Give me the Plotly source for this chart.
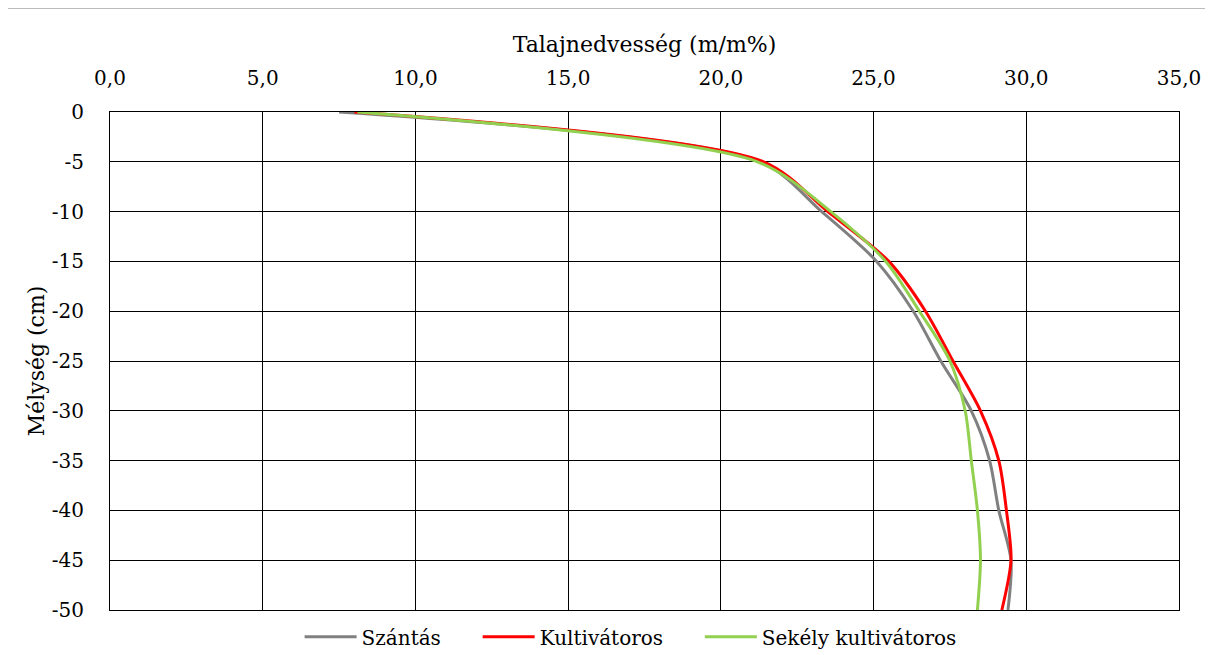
import plotly.graph_objects as go

# Talajnedvesség mélység szerint
depth = [0, -5, -10, -15, -20, -25, -30, -35, -40, -45, -50]
szantas = [7.5, 21.3, 23.3, 25.1, 26.3, 27.2, 28.2, 28.8, 29.1, 29.5, 29.4]
kultivatoros = [8.0, 21.4, 23.5, 25.5, 26.7, 27.6, 28.5, 29.1, 29.35, 29.5, 29.2]
sekely = [8.1, 21.2, 23.6, 25.4, 26.5, 27.5, 28.0, 28.2, 28.4, 28.5, 28.4]

x_ticks = [0, 5, 10, 15, 20, 25, 30, 35]
x_labels = ['0,0', '5,0', '10,0', '15,0', '20,0', '25,0', '30,0', '35,0']
y_ticks = [0, -5, -10, -15, -20, -25, -30, -35, -40, -45, -50]
y_labels = ['0', '-5', '-10', '-15', '-20', '-25', '-30', '-35', '-40', '-45', '-50']

font = 'DejaVu Serif'
pad = '\u00a0' * 5  # extra room between legend entries

fig = go.Figure()
for name, vals, col, tail in [('Szántás', szantas, '#808080', pad),
                              ('Kultivátoros', kultivatoros, '#FF0000', pad),
                              ('Sekély kultivátoros', sekely, '#92D050', '')]:
    fig.add_trace(go.Scatter(x=vals, y=depth, name=name + tail, mode='lines',
                             line=dict(color=col, width=3, shape='spline', smoothing=0.8)))

fig.update_xaxes(side='top', range=[0, 35], tickvals=x_ticks, ticktext=x_labels,
                 showgrid=True, gridcolor='black', gridwidth=1, automargin=False,
                 showline=True, linecolor='black', mirror=True, zeroline=False,
                 ticklabelstandoff=18,
                 tickfont=dict(family=font, size=20, color='black'),
                 title=dict(text='Talajnedvesség (m/m%)', font=dict(family=font, size=22, color='black'),
                            standoff=7))
fig.update_yaxes(range=[-50, 0], tickvals=y_ticks, ticktext=y_labels,
                 showgrid=True, gridcolor='black', gridwidth=1, automargin=False,
                 showline=True, linecolor='black', mirror=True, zeroline=False,
                 ticklabelstandoff=21,
                 tickfont=dict(family=font, size=20, color='black'),
                 title=dict(text='Mélység (cm)', font=dict(family=font, size=22, color='black'),
                            standoff=1))

fig.add_shape(type='rect', xref='paper', yref='paper', x0=-0.0973, x1=1.05, y0=-0.2, y1=1.2088,
              line=dict(color='#7f7f7f', width=1), layer='below')

fig.update_layout(width=1213, height=655, plot_bgcolor='white', paper_bgcolor='white',
                  margin=dict(l=102, r=42, t=104, b=53, autoexpand=False),
                  font=dict(family=font, size=20, color='black'),
                  legend=dict(orientation='h', x=0.487, xanchor='center', y=0.04, yanchor='middle',
                              yref='container',
                              font=dict(family=font, size=20, color='black'),
                              itemwidth=52, tracegroupgap=0))

fig.write_html("out.html")
